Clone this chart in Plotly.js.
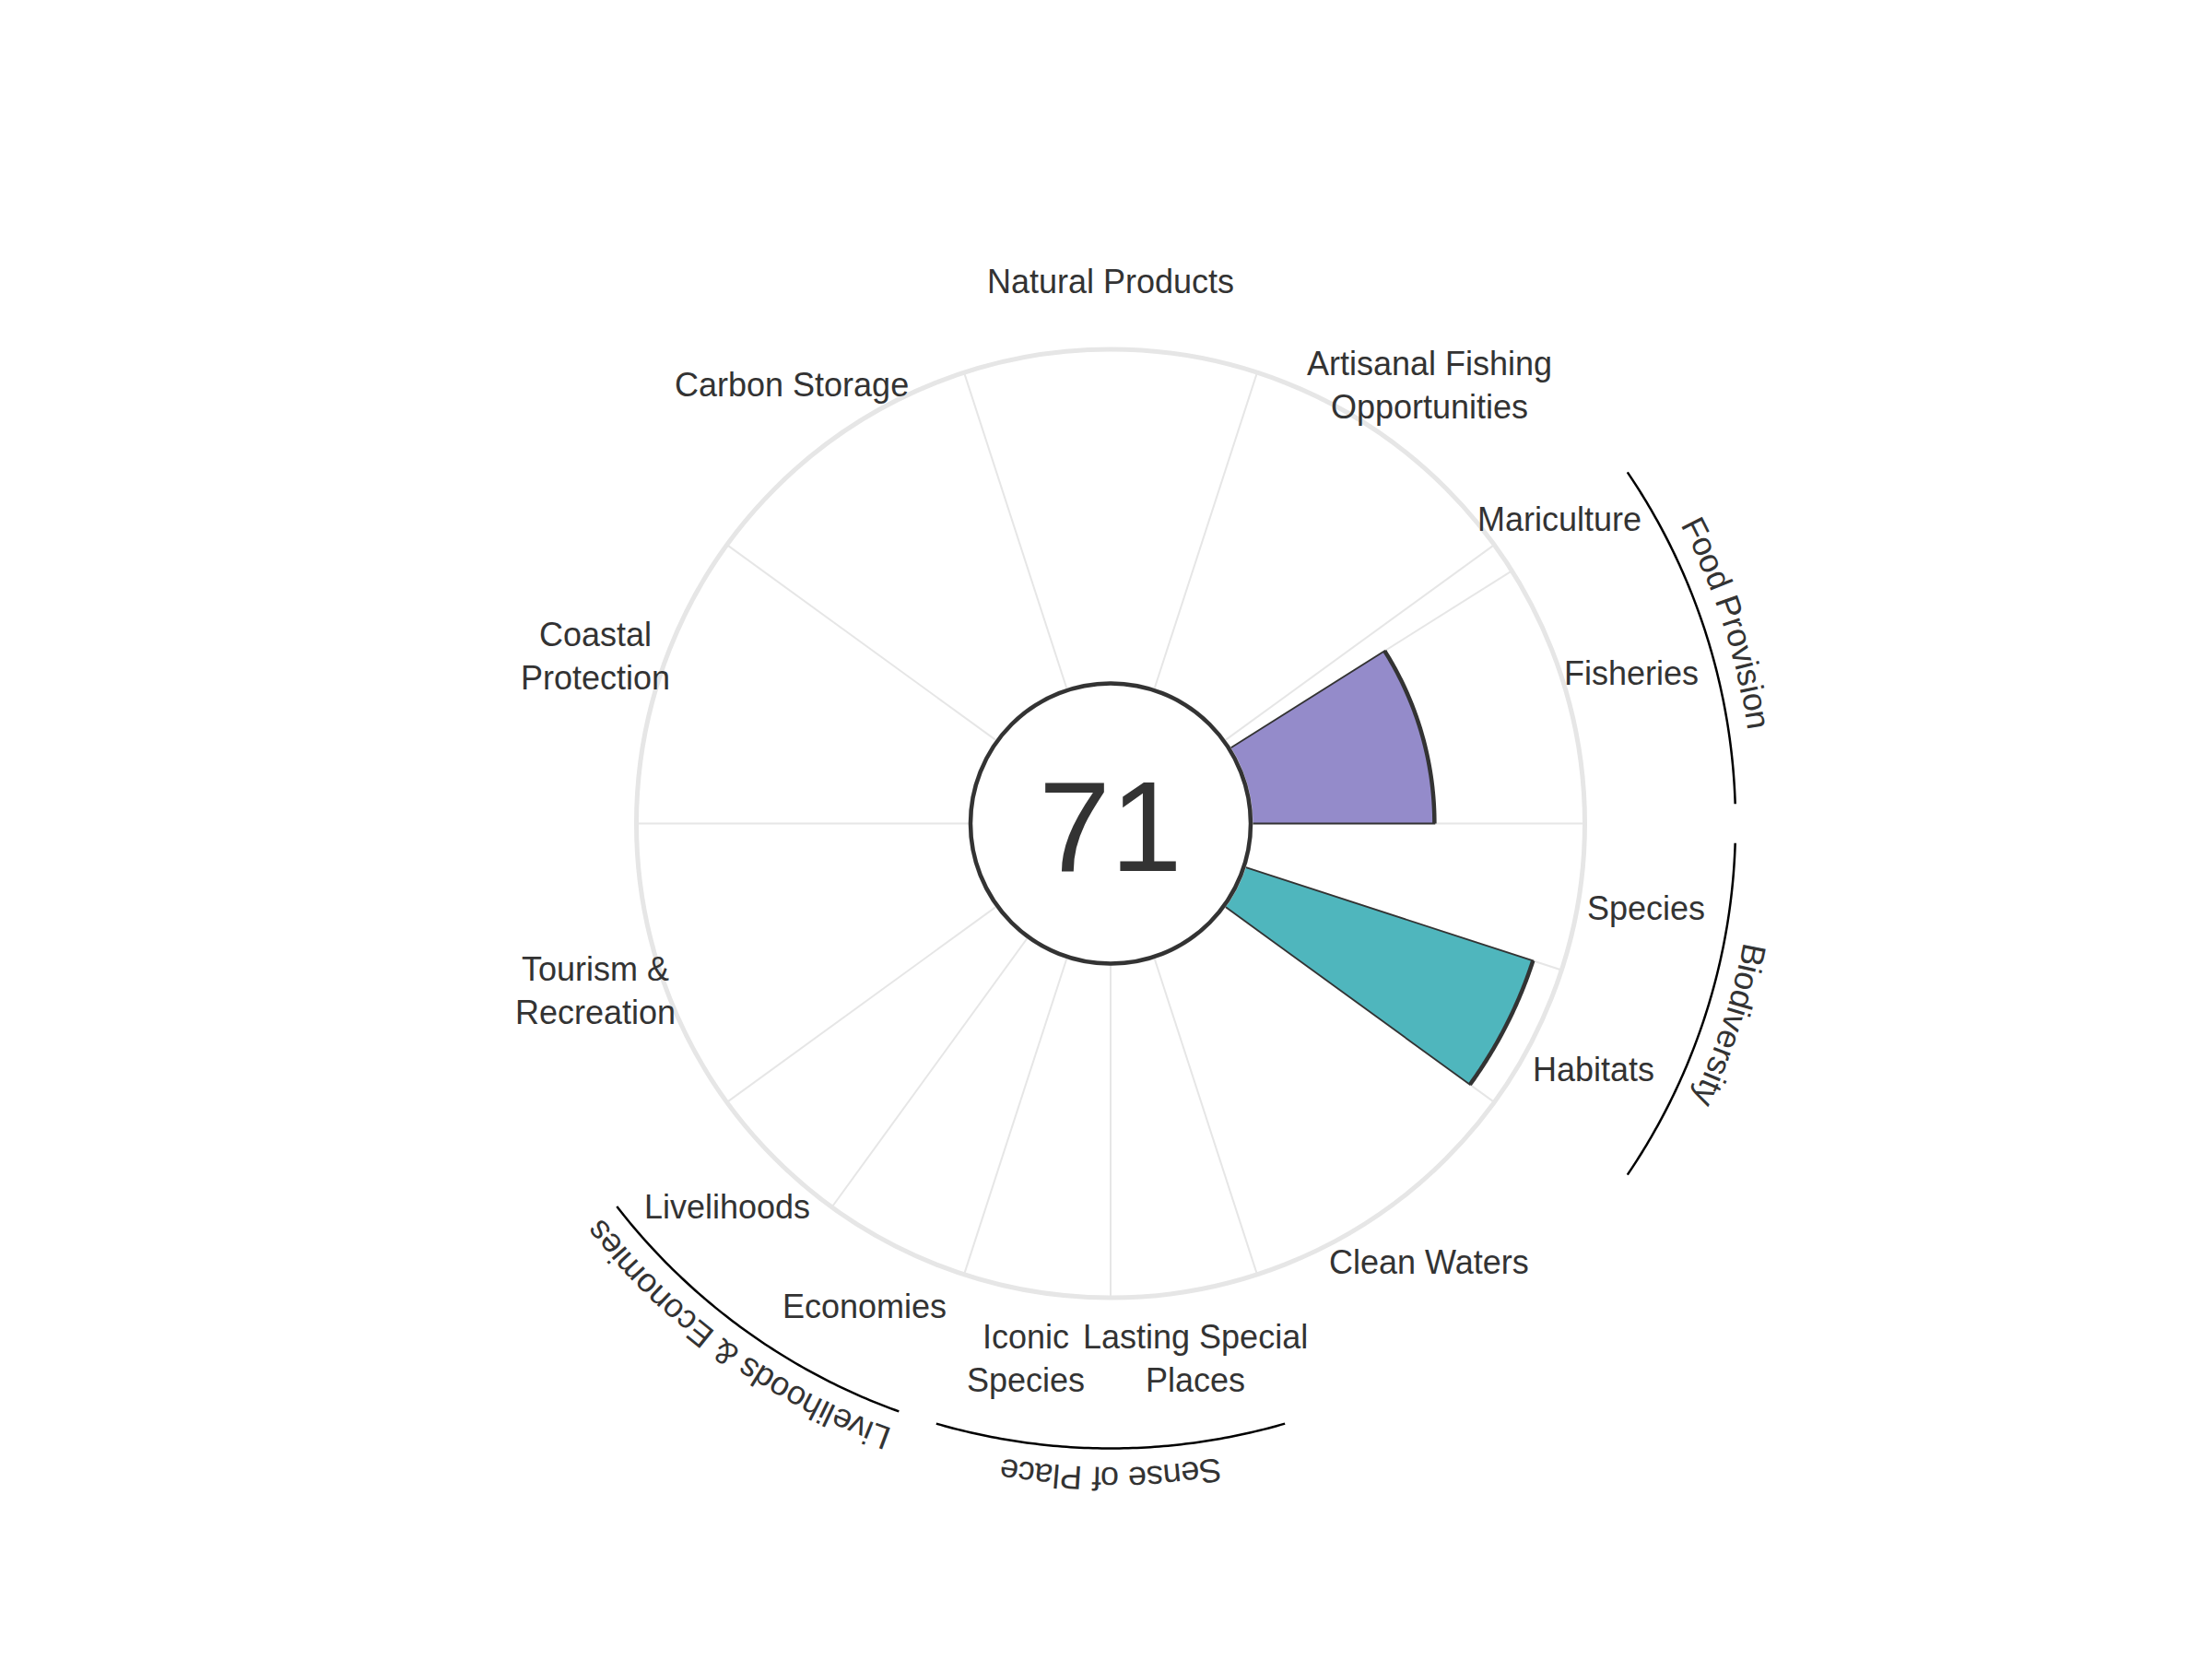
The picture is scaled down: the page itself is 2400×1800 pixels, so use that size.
<!DOCTYPE html>
<html>
<head>
<meta charset="utf-8">
<script src="https://cdn.plot.ly/plotly-3.0.1.min.js"></script>
<style>html,body{margin:0;padding:0;background:#fff;}</style>
</head>
<body>
<div id="chart" style="width:2400px;height:1800px;"></div>
<script>
// ---- data ----
const goalLabels = ['Fisheries', 'Mariculture', 'Artisanal Fishing<br>Opportunities', 'Natural Products',
  'Carbon Storage', 'Coastal<br>Protection', 'Tourism &<br>Recreation', 'Livelihoods', 'Economies',
  'Iconic<br>Species', 'Lasting Special<br>Places', 'Clean Waters', 'Habitats', 'Species'];
const goalWeights = [32.2, 3.8, 36, 36, 36, 36, 36, 18, 18, 18, 18, 36, 18, 18]; // angular width (deg)
const goalScores = [55, null, null, null, null, null, null, null, null, null, null, null, 91, null];
const goalColors = ['#948bca', '#948bca', '#c6b6dc', '#f0b27a', '#a7d08f', '#86c09e', '#f5d66b', '#f28e8e', '#e57a7a',
  '#7fb4d8', '#6aa2cf', '#8ad0cf', '#4fb6bd', '#4fb6bd'];
const groupNames = ['Food Provision', 'Livelihoods & Economies', 'Sense of Place', 'Biodiversity'];
const groupStart = [0, 216, 252, 324];
const groupEnd = [36, 252, 288, 360];
const indexScore = 71;

// ---- geometry ----
const W = 2400, H = 1800;
const cx = 1205, cy = 893.5;   // centre in page pixels (y from top)
const R = 514.5, r0 = 152;
const labelR = 588, arcR = 678, groupLabelR = 711, arcPad = 1.8;
const hole = r0 / R;
const FONT = 'Liberation Sans, Arial, sans-serif';
const FS = 36;

function px(r, deg) {
  const a = deg * Math.PI / 180;
  return [(cx + r * Math.cos(a)) / W, (H - cy + r * Math.sin(a)) / H];
}
function normAng(a) { while (a > 180) a -= 360; while (a <= -180) a += 360; return a; }

// angles
const starts = [], centers = [], ends = [];
let acc = 0;
goalWeights.forEach(w => { starts.push(acc); centers.push(acc + w / 2); acc += w; ends.push(acc); });

const traces = [];
const idx = goalScores.map((v, i) => i).filter(i => goalScores[i] !== null);
traces.push({
  type: 'barpolar',
  r: idx.map(i => goalScores[i]),
  theta: idx.map(i => centers[i]),
  width: idx.map(i => goalWeights[i]),
  marker: { color: idx.map(i => goalColors[i]), line: { color: '#333333', width: 1.8 } },
  hoverinfo: 'skip', showlegend: false
});
idx.forEach(i => {
  const th = [], rr = [];
  for (let k = 0; k <= 60; k++) { th.push(starts[i] + goalWeights[i] * k / 60); rr.push(goalScores[i]); }
  traces.push({ type: 'scatterpolar', mode: 'lines', r: rr, theta: th,
    line: { color: '#333333', width: 4.5 }, hoverinfo: 'skip', showlegend: false });
});

const annotations = [];
goalLabels.forEach((t, i) => {
  const p = px(labelR, centers[i]);
  annotations.push({ xref: 'paper', yref: 'paper', x: p[0], y: p[1], text: t, showarrow: false,
    xanchor: 'center', yanchor: 'middle', font: { size: FS, color: '#333333', family: FONT } });
});

// curved group labels: one character at a time along the arc (reading clockwise)
const ctx = document.createElement('canvas').getContext('2d');
ctx.font = FS + 'px "Liberation Sans", Arial, sans-serif';
const shapes = [];
groupNames.forEach((g, i) => {
  const mid = (groupStart[i] + groupEnd[i]) / 2;
  const chars = Array.from(g);
  const widths = chars.map(c => ctx.measureText(c).width);
  const total = widths.reduce((a, b) => a + b, 0);
  const spanDeg = total / groupLabelR * 180 / Math.PI;
  let cum = 0;
  chars.forEach((c, k) => {
    const th = mid + spanDeg / 2 - (cum + widths[k] / 2) / groupLabelR * 180 / Math.PI;
    cum += widths[k];
    if (c === ' ') return;
    const p = px(groupLabelR, th);
    annotations.push({ xref: 'paper', yref: 'paper', x: p[0], y: p[1], text: c, showarrow: false,
      textangle: normAng(90 - th), xanchor: 'center', yanchor: 'middle', borderpad: 0,
      font: { size: FS, color: '#333333', family: FONT } });
  });
  let path = '';
  const a0 = groupStart[i] + arcPad, a1 = groupEnd[i] - arcPad;
  for (let k = 0; k <= 80; k++) {
    const q = px(arcR, a0 + (a1 - a0) * k / 80);
    path += (k === 0 ? 'M ' : ' L ') + q[0] + ',' + q[1];
  }
  shapes.push({ type: 'path', xref: 'paper', yref: 'paper', path: path, line: { color: '#000000', width: 2.5 } });
});
// centre circle
shapes.push({ type: 'circle', xref: 'paper', yref: 'paper', layer: 'above',
  x0: (cx - r0) / W, x1: (cx + r0) / W, y0: (H - cy - r0) / H, y1: (H - cy + r0) / H,
  line: { color: '#333333', width: 4.5 }, fillcolor: '#ffffff' });
annotations.push({ xref: 'paper', yref: 'paper', x: cx / W, y: (H - cy - 3) / H, text: String(indexScore),
  showarrow: false, xanchor: 'center', yanchor: 'middle',
  font: { size: 140, color: '#333333', family: FONT } });

const layout = {
  width: W, height: H,
  margin: { l: 0, r: 0, t: 0, b: 0 },
  paper_bgcolor: '#ffffff',
  showlegend: false,
  polar: {
    domain: { x: [(cx - R) / W, (cx + R) / W], y: [(H - cy - R) / H, (H - cy + R) / H] },
    hole: hole,
    bgcolor: '#ffffff',
    radialaxis: { range: [0, 100], visible: false, showgrid: false },
    angularaxis: {
      direction: 'counterclockwise', rotation: 0, thetaunit: 'degrees',
      tickmode: 'array', tickvals: starts, showticklabels: false, ticks: '',
      showgrid: true, gridcolor: '#e6e6e6', gridwidth: 2,
      showline: true, linecolor: '#e6e6e6', linewidth: 5
    }
  },
  annotations: annotations,
  shapes: shapes
};

Plotly.newPlot('chart', traces, layout, { staticPlot: true });
</script>
</body>
</html>
